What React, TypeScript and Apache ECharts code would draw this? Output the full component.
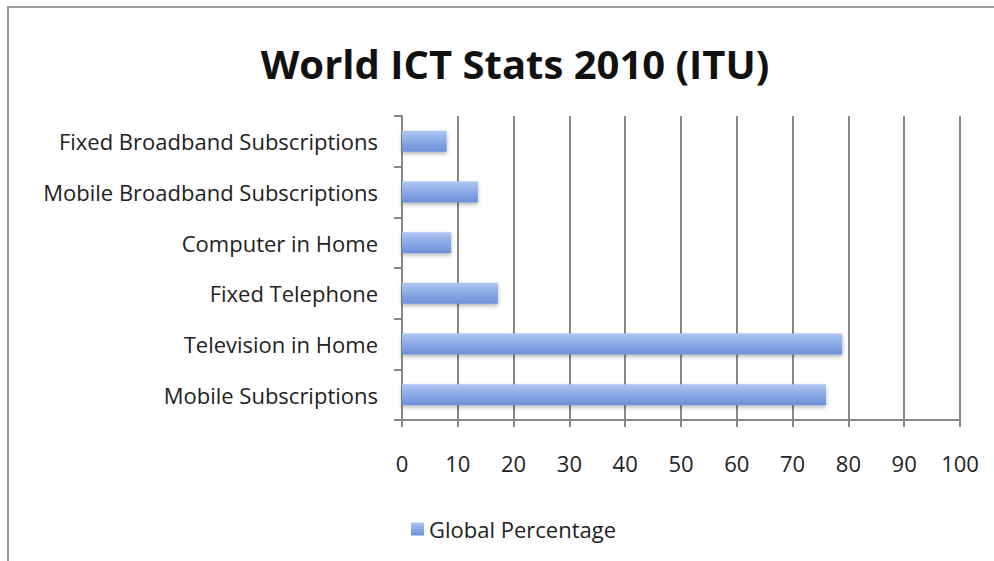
import React, { useEffect, useRef } from "react";
import * as echarts from "echarts";

const categories = [
  "Mobile Subscriptions",
  "Television in Home",
  "Fixed Telephone",
  "Computer in Home",
  "Mobile Broadband Subscriptions",
  "Fixed Broadband Subscriptions",
];
const values = [76.0, 78.9, 17.2, 8.8, 13.6, 8.0];
const seriesName = "Global Percentage";
const titleText = "World ICT Stats 2010 (ITU)";

export default function App() {
  const ref = useRef<HTMLDivElement>(null);
  useEffect(() => {
    document.body.style.margin = "0";
    const chart = echarts.init(ref.current!, null, { renderer: "svg" });
    const font = "'Open Sans', 'Noto Sans', sans-serif";
    chart.setOption({
      animation: false,
      backgroundColor: "#ffffff",
      textStyle: { fontFamily: font },
      title: {
        text: titleText,
        left: 510,
        textAlign: "center",
        top: 38,
        textStyle: { fontSize: 40, fontWeight: "bold", color: "#111", fontFamily: font },
      },
      graphic: [
        {
          type: "rect",
          shape: { x: 8, y: 7, width: 1000, height: 600 },
          style: { fill: "none", stroke: "#999", lineWidth: 2 },
          silent: true,
        },
      ],
      legend: {
        left: 406,
        top: 513,
        icon: "rect",
        itemWidth: 13,
        itemHeight: 13,
        itemGap: 6,
        textStyle: { fontSize: 22, color: "#222", fontFamily: font },
        data: [seriesName],
      },
      grid: { left: 402, right: 34, top: 116, bottom: 141, containLabel: false },
      xAxis: {
        type: "value",
        min: 0,
        max: 100,
        interval: 10,
        axisLine: { show: true, lineStyle: { color: "#888", width: 2 } },
        axisTick: { show: true, length: 7, lineStyle: { color: "#888", width: 2 } },
        splitLine: { show: true, lineStyle: { color: "#888", width: 2 } },
        axisLabel: { fontSize: 22, color: "#222", margin: 32, fontFamily: font },
      },
      yAxis: {
        type: "category",
        data: categories,
        axisLine: { show: true, lineStyle: { color: "#888", width: 2 } },
        axisTick: { show: true, length: 8, lineStyle: { color: "#888", width: 2 } },
        axisLabel: { fontSize: 22, color: "#222", margin: 24, fontFamily: font },
      },
      series: [
        {
          name: seriesName,
          type: "bar",
          data: values,
          barWidth: 21,
          itemStyle: {
            color: new echarts.graphic.LinearGradient(0, 0, 0, 1, [
              { offset: 0, color: "#aec6f2" },
              { offset: 0.5, color: "#8aaae6" },
              { offset: 1, color: "#6b8fd8" },
            ]),
            shadowColor: "rgba(0,0,0,0.3)",
            shadowBlur: 4,
            shadowOffsetY: 2,
          },
        },
      ],
    });
    return () => chart.dispose();
  }, []);
  return <div ref={ref} style={{ width: 994, height: 561 }} />;
}
